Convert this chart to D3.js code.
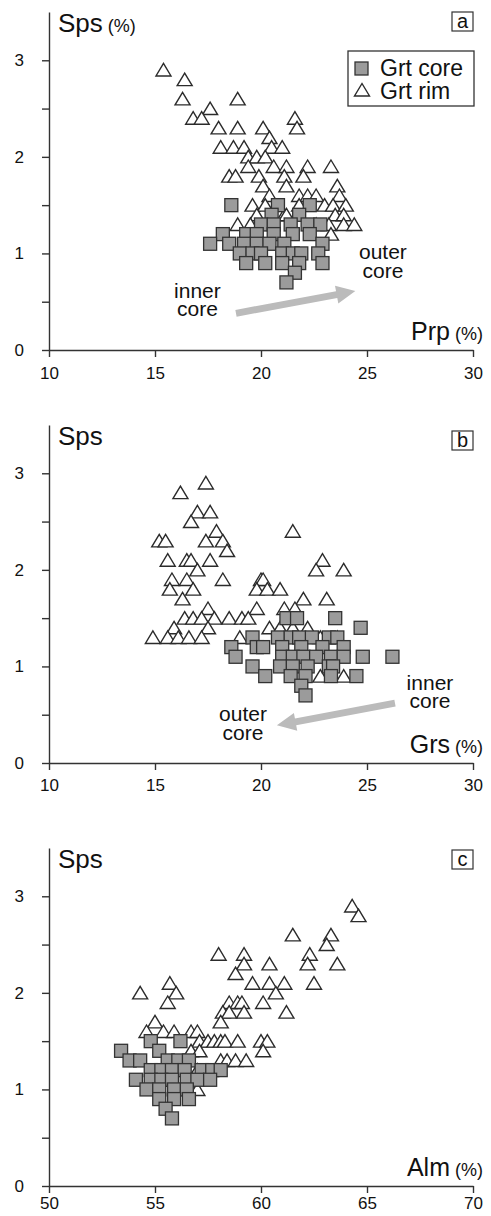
<!DOCTYPE html>
<html>
<head>
<meta charset="utf-8">
<script src="https://cdn.jsdelivr.net/npm/d3@7/dist/d3.min.js"></script>
<style>
  body { margin: 0; background: #fff; }
  svg text { font-family: "Liberation Sans", Arial, sans-serif; fill: #111; }
</style>
</head>
<body>
<div id="chart"></div>
<script>
// Sps (%) against Prp, Grs and Alm (%), garnet cores and rims
var yTicks = [0, 1, 2, 3];
var yMinorTicks = [0.5, 1.5, 2.5];
var prpTicks = [10, 15, 20, 25, 30];
var grsTicks = [10, 15, 20, 25, 30];
var almTicks = [50, 55, 60, 65, 70];

// panel a : [Prp, Sps]
var prpRim = [[15.4,2.9],[16.4,2.8],[16.3,2.6],[17.6,2.5],[16.8,2.4],[17.2,2.4],[18.9,2.6],[18.0,2.3],
  [18.9,2.3],[20.1,2.3],[21.6,2.4],[21.7,2.3],[20.4,2.2],[18.1,2.1],[18.7,2.1],[19.2,2.1],[20.5,2.1],
  [21.0,2.1],[19.4,2.0],[19.8,2.0],[20.2,2.0],[19.4,1.9],[20.6,1.9],[21.2,1.9],[22.2,1.9],[23.3,1.9],
  [18.5,1.8],[18.8,1.8],[19.9,1.8],[21.1,1.8],[22.0,1.8],[20.1,1.7],[21.2,1.7],[23.6,1.7],[20.4,1.6],
  [21.8,1.6],[22.2,1.6],[22.6,1.6],[23.7,1.6],[19.6,1.5],[20.2,1.5],[21.8,1.5],[23.0,1.5],[23.4,1.5],
  [24.0,1.5],[19.8,1.4],[21.1,1.4],[23.5,1.4],[23.9,1.4],[18.9,1.3],[19.5,1.3],[23.2,1.3],[23.9,1.3],
  [24.4,1.3],[23.3,1.2],[21.2,1.4],[22.6,1.3]];
var prpCore = [[18.6,1.5],[20.8,1.5],[22.3,1.5],[20.5,1.4],[21.8,1.4],[20.0,1.3],[20.6,1.3],[21.4,1.3],
  [22.2,1.3],[22.8,1.3],[18.2,1.2],[19.3,1.2],[19.8,1.2],[20.6,1.2],[21.5,1.2],[22.3,1.2],[17.6,1.1],
  [18.5,1.1],[19.2,1.1],[19.8,1.1],[20.4,1.1],[21.1,1.1],[22.9,1.1],[19.0,1.0],[19.6,1.0],[20.0,1.0],
  [21.0,1.0],[21.5,1.0],[21.9,1.0],[22.7,1.0],[19.3,0.9],[20.2,0.9],[21.0,0.9],[21.8,0.9],[22.9,0.9],
  [21.6,0.8],[21.2,0.7]];

// panel b : [Grs, Sps]
var grsRim = [[17.4,2.9],[16.2,2.8],[17.0,2.6],[17.6,2.6],[16.7,2.5],[17.9,2.4],[21.5,2.4],[15.2,2.3],
  [15.5,2.3],[17.4,2.3],[18.2,2.3],[18.4,2.2],[15.6,2.1],[16.5,2.1],[16.7,2.1],[17.6,2.1],[22.9,2.1],
  [17.0,2.0],[22.6,2.0],[23.9,2.0],[15.8,1.9],[16.5,1.9],[18.2,1.9],[20.0,1.9],[20.1,1.9],[15.7,1.8],
  [16.8,1.8],[19.8,1.8],[20.3,1.8],[20.9,1.8],[16.3,1.7],[23.1,1.7],[22.0,1.7],[17.5,1.6],[19.8,1.6],
  [21.1,1.6],[21.6,1.6],[16.4,1.5],[16.8,1.5],[17.2,1.5],[17.8,1.5],[18.5,1.5],[19.1,1.5],[19.4,1.5],
  [17.5,1.4],[15.9,1.4],[20.4,1.4],[20.9,1.4],[21.5,1.4],[22.2,1.4],[14.9,1.3],[15.6,1.3],[16.1,1.3],
  [16.6,1.3],[17.2,1.3],[19.0,1.3],[22.8,1.3],[23.6,1.3],[22.8,0.9],[23.9,0.9]];
var grsCore = [[21.2,1.5],[21.7,1.5],[23.5,1.5],[24.7,1.4],[19.6,1.3],[20.8,1.3],[21.4,1.3],[21.8,1.3],
  [22.4,1.3],[23.2,1.3],[23.6,1.3],[18.6,1.2],[19.8,1.2],[20.1,1.2],[21.0,1.2],[21.9,1.2],[22.9,1.2],
  [23.9,1.2],[18.8,1.1],[21.0,1.1],[21.5,1.1],[22.0,1.1],[22.6,1.1],[23.3,1.1],[23.9,1.1],[24.8,1.1],
  [26.2,1.1],[19.6,1.0],[20.9,1.0],[21.5,1.0],[22.2,1.0],[23.2,1.0],[23.4,1.0],[20.2,0.9],[21.4,0.9],
  [22.1,0.9],[23.3,0.9],[24.5,0.9],[21.9,0.8],[22.1,0.7]];

// panel c : [Alm, Sps]
var almRim = [[64.3,2.9],[64.6,2.8],[61.5,2.6],[63.3,2.6],[63.1,2.5],[58.0,2.4],[59.2,2.4],[62.3,2.4],
  [59.2,2.3],[60.4,2.3],[62.2,2.3],[63.6,2.3],[58.8,2.2],[59.6,2.1],[60.4,2.1],[61.1,2.1],[62.5,2.1],
  [55.7,2.1],[54.3,2.0],[56.0,2.0],[60.7,2.0],[55.6,1.9],[58.5,1.9],[58.9,1.9],[59.1,1.9],[60.1,1.9],
  [58.2,1.8],[58.5,1.8],[59.2,1.8],[61.2,1.8],[58.1,1.7],[55.0,1.7],[54.6,1.6],[55.4,1.6],[55.9,1.6],
  [56.7,1.6],[57.0,1.6],[57.1,1.5],[57.5,1.5],[57.8,1.5],[58.1,1.5],[58.3,1.5],[58.9,1.5],[60.0,1.5],
  [60.3,1.5],[56.7,1.4],[57.1,1.4],[60.1,1.4],[58.1,1.3],[58.4,1.3],[58.8,1.3],[59.3,1.3],[57.0,1.0],
  [57.0,1.2]];
var almCore = [[53.4,1.4],[54.8,1.5],[56.2,1.5],[55.2,1.4],[53.8,1.3],[54.3,1.3],[55.6,1.3],[56.1,1.3],
  [56.6,1.3],[54.8,1.2],[55.3,1.2],[55.8,1.2],[56.4,1.2],[57.2,1.2],[57.7,1.2],[58.1,1.2],[54.1,1.1],
  [54.8,1.1],[55.3,1.1],[55.8,1.1],[56.5,1.1],[57.0,1.1],[57.6,1.1],[54.6,1.0],[55.2,1.0],[55.9,1.0],
  [56.5,1.0],[55.2,0.9],[55.9,0.9],[56.6,0.9],[55.5,0.8],[55.8,0.7]];

var width = 491;
var height = 1216;
var left = 49, right = 473;

var svg = d3.select("#chart").append("svg")
  .attr("width", width)
  .attr("height", height);

var tri = "M0,-6.5L7.5,6L-7.5,6Z";

function drawPanel(p) {
  var g = svg.append("g");

  var x = d3.scaleLinear().domain(p.xDomain).range([left, right]);
  var y = d3.scaleLinear().domain([0, 3.5]).range([p.bottom, p.bottom - 338]);

  // axes
  var yAxis = d3.axisLeft(y)
    .tickValues(yTicks.concat(yMinorTicks))
    .tickFormat(function (d) { return yTicks.indexOf(d) >= 0 ? d : ""; })
    .tickSize(7).tickSizeOuter(0).tickPadding(18);
  var xAxis = d3.axisBottom(x)
    .tickValues(p.xTicks)
    .tickSize(7).tickSizeOuter(0).tickPadding(p.xPad);

  var ya = g.append("g")
    .attr("transform", "translate(" + left + ",0)")
    .call(yAxis);
  var xa = g.append("g")
    .attr("transform", "translate(0," + p.bottom + ")")
    .call(xAxis);
  [ya, xa].forEach(function (a) {
    a.selectAll("path, line").attr("stroke", "#333").attr("stroke-width", 1.4);
    a.selectAll("text").style("font-size", "17px").attr("fill", "#111");
  });

  // rims first, cores on top
  g.append("g").selectAll("path")
    .data(p.rim)
    .join("path")
    .attr("d", tri)
    .attr("transform", function (d) { return "translate(" + x(d[0]) + "," + y(d[1]) + ")"; })
    .attr("fill", "#fff")
    .attr("stroke", "#2b2b2b")
    .attr("stroke-width", 1.4);

  g.append("g").selectAll("rect")
    .data(p.core)
    .join("rect")
    .attr("x", function (d) { return x(d[0]) - 6.5; })
    .attr("y", function (d) { return y(d[1]) - 6.5; })
    .attr("width", 13)
    .attr("height", 13)
    .attr("fill", "#9b9b9b")
    .attr("stroke", "#333")
    .attr("stroke-width", 1.3);

  // y title
  var yt = g.append("text")
    .attr("x", 58)
    .attr("y", p.bottom - 338 + 20);
  yt.append("tspan").style("font-size", "26px").text("Sps");
  if (p.yUnit) yt.append("tspan").style("font-size", "18px").text(" (%)");

  // x title
  var xt = g.append("text")
    .attr("x", 483)
    .attr("y", p.bottom - 10)
    .attr("text-anchor", "end");
  xt.append("tspan").style("font-size", "25px").text(p.xLabel);
  xt.append("tspan").style("font-size", "18px").text(" (%)");

  // panel letter
  g.append("rect")
    .attr("x", 452).attr("y", p.letterTop)
    .attr("width", 21).attr("height", 19)
    .attr("fill", "#fff").attr("stroke", "#333").attr("stroke-width", 1.2);
  g.append("text")
    .attr("x", 462.5).attr("y", p.letterTop + 15.5)
    .attr("text-anchor", "middle")
    .style("font-size", "20px")
    .text(p.letter);

  // arrow + notes
  if (p.arrow) {
    var a0 = [x(p.arrow[0][0]), y(p.arrow[0][1])];
    var a1 = [x(p.arrow[1][0]), y(p.arrow[1][1])];
    var ang = Math.atan2(a1[1] - a0[1], a1[0] - a0[0]);
    var len = Math.hypot(a1[0] - a0[0], a1[1] - a0[1]);
    var head = 19, hw = 9, sw = 3.4;
    var pts = [[0, -sw], [len - head, -sw], [len - head, -hw], [len, 0], [len - head, hw], [len - head, sw], [0, sw]];
    g.append("path")
      .attr("d", "M" + pts.join("L") + "Z")
      .attr("transform", "translate(" + a0[0] + "," + a0[1] + ") rotate(" + (ang * 180 / Math.PI) + ")")
      .attr("fill", "#bbbbbb");
  }
  (p.notes || []).forEach(function (n) {
    n.lines.forEach(function (s, i) {
      g.append("text")
        .attr("text-anchor", "middle")
        .style("font-size", "21px")
        .attr("x", x(n.at[0]))
        .attr("y", y(n.at[1]) + i * 18.5)
        .text(s);
    });
  });

  return { g: g, x: x, y: y };
}

var pa = drawPanel({
  bottom: 350, xDomain: [10, 30], xTicks: prpTicks, rim: prpRim, core: prpCore, xPad: 10,
  xLabel: "Prp", yUnit: true, letter: "a", letterTop: 12,
  arrow: [[18.82, 0.38], [24.45, 0.61]],
  notes: [{ at: [17.0, 0.54], lines: ["inner", "core"] }, { at: [25.75, 0.94], lines: ["outer", "core"] }]
});

drawPanel({
  bottom: 763, xDomain: [10, 30], xTicks: grsTicks, rim: grsRim, core: grsCore, xPad: 9,
  xLabel: "Grs", yUnit: false, letter: "b", letterTop: 431,
  arrow: [[26.32, 0.62], [20.75, 0.39]],
  notes: [{ at: [27.97, 0.76], lines: ["inner", "core"] }, { at: [19.15, 0.43], lines: ["outer", "core"] }]
});

drawPanel({
  bottom: 1186, xDomain: [50, 70], xTicks: almTicks, rim: almRim, core: almCore, xPad: 4,
  xLabel: "Alm", yUnit: false, letter: "c", letterTop: 850
});

// legend in panel a
var lg = pa.g.append("g");
lg.append("rect")
  .attr("x", 348).attr("y", 51).attr("width", 126).attr("height", 55)
  .attr("fill", "#fff").attr("stroke", "#333").attr("stroke-width", 1.3);
lg.append("rect")
  .attr("x", 355).attr("y", 62).attr("width", 13).attr("height", 13)
  .attr("fill", "#9b9b9b").attr("stroke", "#333").attr("stroke-width", 1.3);
lg.append("path")
  .attr("d", tri)
  .attr("transform", "translate(362,90)")
  .attr("fill", "#fff").attr("stroke", "#2b2b2b").attr("stroke-width", 1.4);
lg.append("text").attr("x", 380).attr("y", 76).style("font-size", "23px").text("Grt core");
lg.append("text").attr("x", 380).attr("y", 99).style("font-size", "23px").text("Grt rim");
</script>
</body>
</html>
